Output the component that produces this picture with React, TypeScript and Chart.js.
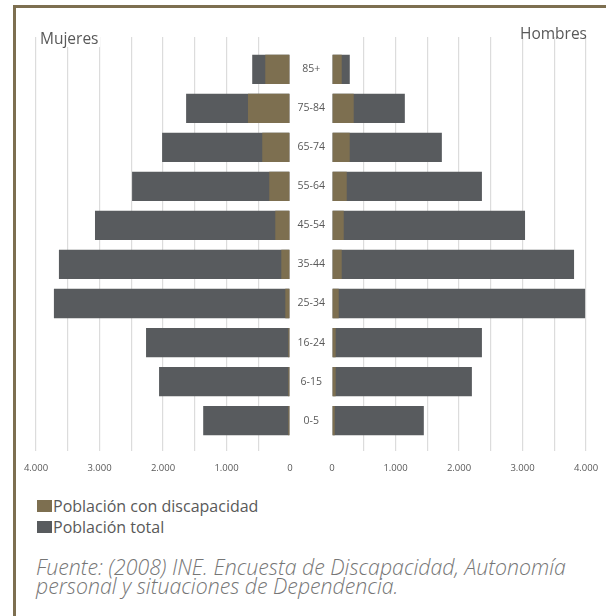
import React, { useEffect, useRef } from 'react';
import { Chart, registerables } from 'chart.js';

Chart.register(...registerables);

// Age groups, listed from the youngest (bottom row) to the oldest (top row)
const AGE_GROUPS = ['0-5', '6-15', '16-24', '25-34', '35-44', '45-54', '55-64', '65-74', '75-84', '85+'];

// Thousands of people
const MUJERES_TOTAL = [1367, 2062, 2267, 3718, 3639, 3071, 2487, 2014, 1636, 595];
const MUJERES_DISCAPACIDAD = [27, 27, 27, 74, 137, 232, 327, 437, 662, 390];
const HOMBRES_TOTAL = [1446, 2203, 2361, 3986, 3812, 3040, 2361, 1730, 1147, 280];
const HOMBRES_DISCAPACIDAD = [43, 58, 58, 106, 153, 185, 232, 279, 342, 153];

const AXIS_MAX = 4000;
const AXIS_STEP = 500;

const SERIES_DISCAPACIDAD = 'Población con discapacidad';
const SERIES_TOTAL = 'Población total';

const OLIVE = '#7d6f50';
const DARK = '#585b5e';
const GRID = '#dcdcdc';
const TEXT = '#595959';
const FONT = '"Open Sans", "Noto Sans", sans-serif';

// 4000 -> "4.000"
const formatThousands = (v: number) =>
  String(Math.round(v)).replace(/\B(?=(\d{3})+(?!\d))/g, '.');

const toPoints = (values: number[]) => values.map((x, i) => ({ x, y: i }));

function buildConfig(side: 'left' | 'right', total: number[], disability: number[]): any {
  const isLeft = side === 'left';
  return {
    type: 'bar',
    data: {
      datasets: [
        {
          label: SERIES_DISCAPACIDAD,
          data: toPoints(disability),
          backgroundColor: OLIVE,
          grouped: false,
          barPercentage: 0.75,
          categoryPercentage: 1,
        },
        {
          label: SERIES_TOTAL,
          data: toPoints(total),
          backgroundColor: DARK,
          grouped: false,
          barPercentage: 0.75,
          categoryPercentage: 1,
        },
      ],
    },
    options: {
      indexAxis: 'y',
      animation: false,
      responsive: false,
      maintainAspectRatio: false,
      layout: {
        padding: isLeft
          ? { left: 36, right: 16, top: 29, bottom: 0 }
          : { left: 0, right: 30, top: 29, bottom: 0 },
      },
      plugins: {
        legend: { display: false },
        tooltip: { enabled: false },
        title: { display: false },
      },
      scales: {
        x: {
          type: 'linear',
          min: 0,
          max: AXIS_MAX,
          reverse: isLeft,
          border: { display: false },
          grid: {
            drawTicks: false,
            tickLength: 0,
            lineWidth: 1.2,
            color: (ctx: any) => (ctx.tick && ctx.tick.value === 0 ? 'rgba(0,0,0,0)' : GRID),
          },
          ticks: {
            stepSize: AXIS_STEP,
            autoSkip: false,
            maxRotation: 0,
            padding: 12,
            color: TEXT,
            font: { family: FONT, size: 9.5 },
            callback: (v: number) => (v % 1000 === 0 ? formatThousands(v) : ''),
          },
        },
        y: {
          type: 'linear',
          min: -0.77,
          max: 9.83,
          offset: false,
          display: !isLeft,
          position: 'left',
          border: { display: false },
          grid: { display: false, drawTicks: false, tickLength: 0 },
          afterBuildTicks: (scale: any) => {
            scale.ticks = AGE_GROUPS.map((_, i) => ({ value: i }));
          },
          afterFit: (scale: any) => {
            if (!isLeft) scale.width = 42;
          },
          ticks: {
            crossAlign: 'center',
            padding: 7,
            color: TEXT,
            font: { family: FONT, size: 10.5 },
            callback: (v: number) => AGE_GROUPS[v] ?? '',
          },
        },
      },
    },
  };
}

function PyramidSide(props: {
  side: 'left' | 'right';
  total: number[];
  disability: number[];
  style: React.CSSProperties;
  width: number;
  height: number;
}) {
  const ref = useRef<HTMLCanvasElement | null>(null);
  useEffect(() => {
    if (!ref.current) return;
    const chart = new Chart(ref.current, buildConfig(props.side, props.total, props.disability));
    return () => chart.destroy();
  }, [props.side, props.total, props.disability]);
  return (
    <canvas
      ref={ref}
      width={props.width}
      height={props.height}
      style={{ position: 'absolute', width: props.width, height: props.height, ...props.style }}
    />
  );
}

function LegendItem({ color, label, top }: { color: string; label: string; top: number }) {
  return (
    <div style={{ position: 'absolute', left: 37, top, height: 18, display: 'flex', alignItems: 'center' }}>
      <span style={{ display: 'inline-block', width: 15, height: 12, background: color }} />
      <span style={{ marginLeft: 1, fontFamily: FONT, fontSize: 16, color: TEXT, lineHeight: '18px' }}>{label}</span>
    </div>
  );
}

export default function App() {
  return (
    <div
      style={{
        position: 'absolute',
        left: 0,
        top: 0,
        width: 606,
        height: 616,
        overflow: 'hidden',
        background: '#ffffff',
      }}
    >
      <div
        style={{
          position: 'absolute',
          left: 13,
          top: 5,
          width: 620,
          height: 640,
          borderTop: `3px solid ${OLIVE}`,
          borderLeft: `3px solid ${OLIVE}`,
        }}
      />
      <PyramidSide
        side="left"
        total={MUJERES_TOTAL}
        disability={MUJERES_DISCAPACIDAD}
        width={306}
        height={478}
        style={{ left: 0, top: 8 }}
      />
      <PyramidSide
        side="right"
        total={HOMBRES_TOTAL}
        disability={HOMBRES_DISCAPACIDAD}
        width={326}
        height={478}
        style={{ left: 290, top: 8 }}
      />
      <div
        style={{
          position: 'absolute',
          left: 39,
          top: 29,
          fontFamily: FONT,
          fontSize: 15.5,
          lineHeight: '18px',
          color: TEXT,
          background: '#ffffff',
          padding: '0 1px',
        }}
      >
        Mujeres
      </div>
      <div
        style={{
          position: 'absolute',
          right: 606 - 587,
          top: 24,
          fontFamily: FONT,
          fontSize: 15.5,
          lineHeight: '18px',
          color: TEXT,
        }}
      >
        Hombres
      </div>
      <LegendItem color={OLIVE} label={SERIES_DISCAPACIDAD} top={497} />
      <LegendItem color={DARK} label={SERIES_TOTAL} top={518} />
      <div
        style={{
          position: 'absolute',
          left: 36,
          top: 557,
          width: 570,
          fontFamily: FONT,
          fontStyle: 'italic',
          fontWeight: 300,
          fontSize: 21.3,
          lineHeight: '19px',
          color: '#767676',
          whiteSpace: 'nowrap',
        }}
      >
        Fuente: (2008) INE. Encuesta de Discapacidad, Autonomía
        <br />
        personal y situaciones de Dependencia.
      </div>
    </div>
  );
}
